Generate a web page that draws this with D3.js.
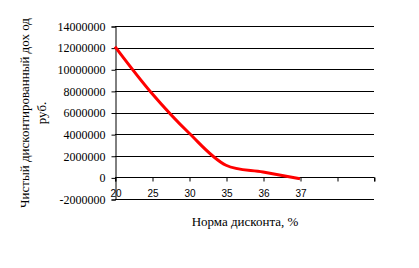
<!DOCTYPE html>
<html>
<head>
<meta charset="utf-8">
<script src="https://cdn.jsdelivr.net/npm/d3@7"></script>
<style>
  body { margin: 0; background: #fff; }
  svg { display: block; }
</style>
</head>
<body>
<script>
// categories on the x axis (last two are empty slots in the original chart)
const categories = ["20", "25", "30", "35", "36", "37", "", " "];
const npv = [12100000, 7760000, 4100000, 1120000, 500000, -120000];
const yTicks = [-2000000, 0, 2000000, 4000000, 6000000, 8000000, 10000000, 12000000, 14000000];

const width = 419;
const height = 268;
const plot = { left: 115, right: 374, top: 26, bottom: 199 };

const svg = d3.select("body")
  .append("svg")
  .attr("width", width)
  .attr("height", height);

const x = d3.scalePoint()
  .domain(categories)
  .range([plot.left, plot.right]);

const y = d3.scaleLinear()
  .domain([-2000000, 14000000])
  .range([plot.bottom, plot.top]);

// horizontal grid lines
svg.append("g")
  .selectAll("line")
  .data(yTicks)
  .join("line")
  .attr("x1", plot.left)
  .attr("x2", plot.right)
  .attr("y1", d => Math.round(y(d)) + 0.5)
  .attr("y2", d => Math.round(y(d)) + 0.5)
  .attr("stroke", "#000");

// y axis
const yAxis = svg.append("g")
  .attr("transform", `translate(${plot.left + 0.5},0.5)`)
  .call(d3.axisLeft(y).tickValues(yTicks).tickFormat(d => String(d)).tickSize(4).tickPadding(6));
yAxis.attr("font-family", null).attr("font-size", null);
yAxis.select(".domain").attr("stroke", "#000");
yAxis.selectAll("line").attr("stroke", "#000");
yAxis.selectAll("text")
  .style("font-family", "'Liberation Serif', 'Times New Roman', serif")
  .style("font-size", "12px")
  .attr("fill", "#000");

// x axis at zero
const xAxis = svg.append("g")
  .attr("transform", `translate(0.5,${Math.round(y(0)) + 0.5})`)
  .call(d3.axisBottom(x).tickSize(4).tickPadding(8));
xAxis.select(".domain").attr("stroke", "#000").attr("d", `M${plot.left},4V0H${plot.right}V4`);
xAxis.selectAll("line").attr("stroke", "#000");
xAxis.selectAll("text")
  .style("font-family", "'Liberation Sans', Arial, sans-serif")
  .style("font-size", "10px")
  .attr("fill", "#000");

// the NPV line
const line = d3.line()
  .x((d, i) => x(categories[i]))
  .y(d => y(d))
  .curve(d3.curveCatmullRom.alpha(0.5));

svg.append("path")
  .datum(npv)
  .attr("d", line)
  .attr("fill", "none")
  .attr("stroke", "#ff0000")
  .attr("stroke-width", 3)
  .attr("stroke-linejoin", "round");

// axis titles
svg.append("text")
  .attr("transform", "translate(29,113) rotate(-90)")
  .attr("text-anchor", "middle")
  .style("font-family", "'Liberation Serif', 'Times New Roman', serif")
  .style("font-size", "13px")
  .attr("fill", "#000")
  .selectAll("tspan")
  .data(["Чистый дисконтированный дох од", "руб."])
  .join("tspan")
  .attr("x", 0)
  .attr("dy", (d, i) => i === 0 ? 0 : 17)
  .text(d => d);

svg.append("text")
  .attr("x", 245)
  .attr("y", 226)
  .attr("text-anchor", "middle")
  .style("font-family", "'Liberation Serif', 'Times New Roman', serif")
  .style("font-size", "13px")
  .attr("fill", "#000")
  .text("Норма дисконта, %");
</script>
</body>
</html>
